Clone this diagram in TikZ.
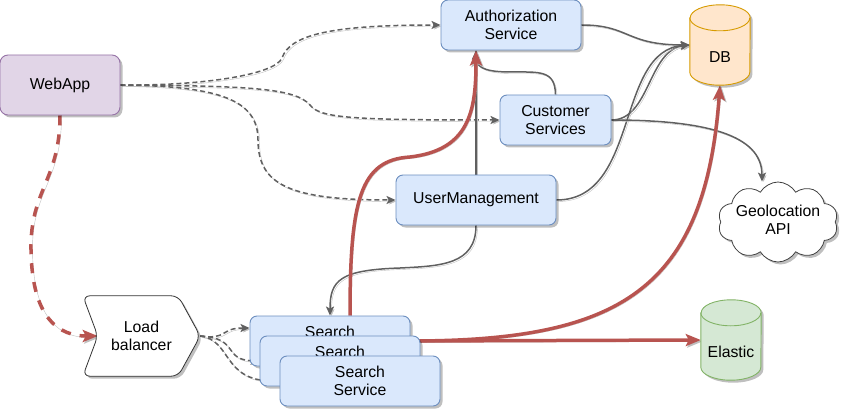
\documentclass[tikz,border=0pt]{standalone}
\usepackage{fontspec}
\setmainfont{Liberation Sans}
\usetikzlibrary{shapes.symbols,arrows.meta,shadows,backgrounds,calc}
\definecolor{blueF}{HTML}{DAE8FC}
\definecolor{blueS}{HTML}{6C8EBF}
\definecolor{purF}{HTML}{E1D5E7}
\definecolor{purS}{HTML}{9673A6}
\definecolor{orF}{HTML}{FFE6CC}
\definecolor{orS}{HTML}{D79B00}
\definecolor{grF}{HTML}{D5E8D4}
\definecolor{grS}{HTML}{82B366}
\definecolor{redE}{HTML}{B85450}
\definecolor{grayE}{HTML}{606060}
\begin{document}
\begin{tikzpicture}[x=1pt,y=-1pt,font=\fontsize{15.8}{18}\selectfont,
  shad/.style={drop shadow={shadow xshift=2.5pt,shadow yshift=-2.5pt,opacity=0.25,fill=black}},
  eshad/.style={preaction={draw=black!25,transform canvas={xshift=1.5pt,yshift=-1.5pt}}},
  svc/.style={draw=blueS,fill=blueF,rounded corners=7pt,minimum height=50,align=center,line width=0.9pt,shad,inner sep=0pt},
  holder/.style={inner sep=0pt,align=center},
  gedge/.style={draw=grayE,line width=1.5pt,eshad,-{Stealth[length=9pt,width=8pt,inset=2pt]}},
  gdash/.style={gedge,dash pattern=on 5pt off 3pt},
  redge/.style={draw=redE,line width=3.5pt,eshad,-{Stealth[length=15pt,width=12pt,inset=3pt]}},
  rdash/.style={redge,dash pattern=on 10pt off 9pt}]
\useasboundingbox (0,0) rectangle (843,409);

% WebApp
\node[draw=purS,fill=purF,rounded corners=8pt,minimum width=120,minimum height=60,line width=0.9pt,shad] (web) at (60,85) {WebApp};

% services
\node[svc,minimum width=140] (auth) at (511,25) {Authorization\\Service};
\node[svc,minimum width=111] (cs) at (555.5,120) {Customer\\Services};
\node[svc,minimum width=160] (um) at (476,200) {UserManagement};
\coordinate (authin) at ([xshift=-35pt]auth.south);

% DB cylinder
\node[holder,minimum width=60,minimum height=80] (db) at (720,45) {};
\draw[draw=orS,fill=orF,line width=0.9pt,shad]
  ([yshift=-13pt]db.north west) -- ([yshift=13pt]db.south west)
  arc[start angle=180,end angle=360,x radius=30pt,y radius=13pt]
  -- ([yshift=-13pt]db.north east)
  arc[start angle=0,end angle=180,x radius=30pt,y radius=13pt] -- cycle;
\draw[draw=orS,line width=0.9pt] ([yshift=-13pt]db.north west)
  arc[start angle=180,end angle=360,x radius=30pt,y radius=13pt];
\node (dbt) at ([yshift=-12pt]db.center) {DB};

% Elastic cylinder
\node[holder,minimum width=60,minimum height=80] (el) at (731,340) {};
\draw[draw=grS,fill=grF,line width=0.9pt,shad]
  ([yshift=-13pt]el.north west) -- ([yshift=13pt]el.south west)
  arc[start angle=180,end angle=360,x radius=30pt,y radius=13pt]
  -- ([yshift=-13pt]el.north east)
  arc[start angle=0,end angle=180,x radius=30pt,y radius=13pt] -- cycle;
\draw[draw=grS,line width=0.9pt] ([yshift=-13pt]el.north west)
  arc[start angle=180,end angle=360,x radius=30pt,y radius=13pt];
\node (elt) at ([yshift=-12pt]el.center) {Elastic};

% Geolocation cloud
\node[cloud,cloud puffs=10,cloud puff arc=120,aspect=1.6,draw=black!75,fill=white,line width=0.8pt,minimum width=120,minimum height=80,inner sep=0pt,shad] (geo) at (778,222) {};
\node[align=center] (geot) at ([yshift=2pt]geo.center) {Geolocation\\API};

% Load balancer step shape
\node[holder,minimum width=117,minimum height=80] (lb) at (141.5,336) {};
\draw[draw=black!80,fill=white,line width=0.8pt,rounded corners=7pt,shad]
  (lb.north west) -- ([xshift=-22pt]lb.north east) -- (lb.east)
  -- ([xshift=-22pt]lb.south east) -- (lb.south west) -- ([xshift=15pt]lb.west) -- cycle;
\node[align=center] (lbt) at (lb.center) {Load\\balancer};
\coordinate (lbin) at ([xshift=15pt]lb.west);

% Search services (stacked; lower lines of the back two are covered)
\node[svc,minimum width=160] (s1) at (330,341) {Search\\\phantom{Service}};
\node[svc,minimum width=160] (s2) at (340,361) {Search\\\phantom{Service}};
\node[svc,minimum width=160] (s3) at (360,381) {Search\\Service};

\begin{pgfonlayer}{background}
% WebApp dashed edges
\draw[gdash] (web.east) .. controls (200,86) and (275,75) .. (282,58)
  .. controls (290,35) and (330,25) .. (auth.west);
\draw[gdash] (web.east) .. controls (250,86) and (295,88) .. (310,105)
  .. controls (320,118) and (350,120) .. (cs.west);
\draw[gdash] (web.east) .. controls (220,86) and (258,100) .. (258,140)
  .. controls (258,185) and (290,200) .. (um.west);
\draw[rdash] (web.south) .. controls (60,180) and (30,190) .. (31,250)
  .. controls (32,320) and (60,336) .. (lbin);

% load balancer to search
\draw[gdash] (lb.east) .. controls (228,340) and (220,328) .. ([yshift=13pt]s1.west);
\draw[gdash] (lb.east) .. controls (240,338) and (222,360) .. (s2.west);
\draw[gdash] (lb.east) .. controls (232,340) and (222,381) .. (s3.west);

% gray solid edges
\draw[gedge] (auth.east) .. controls (630,25) and (625,45) .. (db.west);
\draw[gedge] (cs.east) .. controls (650,120) and (648,50) .. (db.west);
\draw[gedge] (um.east) .. controls (640,200) and (615,50) .. (db.west);
\draw[gedge] (cs.east) .. controls (720,120) and (762,140) .. ([xshift=-16pt]geo.north);
\draw[gedge] (cs.north) .. controls (555,70) and (540,72) .. (510,72)
  .. controls (480,72) and (476,65) .. (authin);
\draw[gedge] (um.north -| authin) -- (authin);
\draw[gedge] (um.south) .. controls (476,265) and (440,266) .. (400,268)
  .. controls (340,270) and (330,280) .. (s1.north);

% red edges
\draw[redge] ([xshift=20pt]s1.north) .. controls (350,200) and (360,160) .. (410,157)
  .. controls (470,150) and (476,110) .. (authin);
\draw[redge] (s1.east) .. controls (620,341) and (705,290) .. (db.south);
\draw[redge] (s1.east) -- (el.west);
\end{pgfonlayer}
\end{tikzpicture}
\end{document}
